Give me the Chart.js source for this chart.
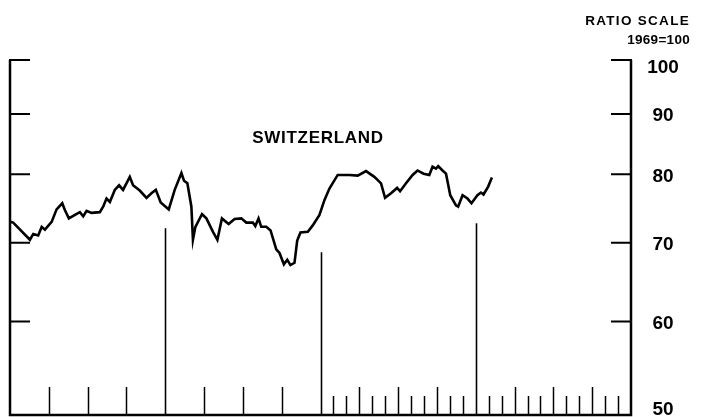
<!DOCTYPE html>
<html>
<head>
<meta charset="utf-8">
<script src="https://cdn.jsdelivr.net/npm/chart.js@4/dist/chart.umd.min.js"></script>
<style>
  html, body { margin: 0; padding: 0; background: #fff; }
  #wrap { width: 705px; height: 417px; }
</style>
</head>
<body>
<div id="wrap"><canvas id="chart"></canvas></div>
<script>
// Data (x = months from start of first year, y = index, 1969=100)
const months = [0, 0.25, 1.54, 1.8, 2.18, 2.45, 2.7, 3.22, 3.6, 4.04, 4.24, 4.55, 5.02, 5.4, 5.66, 5.92,
  6.3, 6.94, 7.2, 7.46, 7.72, 8.1, 8.43, 8.74, 9.26, 9.51, 10.03, 10.55, 10.93, 11.27, 11.65,
  12.27, 12.73, 13.25, 13.45, 13.71, 14.02, 14.14, 14.33, 14.84, 15.18, 15.69, 16.03, 16.38, 16.9,
  17.36, 17.88, 18.26, 18.77, 18.96, 19.21, 19.42, 19.81, 20.14, 20.58, 20.83, 21.17, 21.43, 21.68,
  21.99, 22.2, 22.45, 23.02, 23.4, 23.92, 24.31, 24.69, 25.33, 25.59, 26.23, 26.88, 27.52, 28.16,
  28.68, 28.99, 29.45, 29.92, 30.15, 30.61, 31.12, 31.5, 31.97, 32.41, 32.66, 32.92, 33.1, 33.43,
  33.7, 34.03, 34.47, 34.64, 34.98, 35.36, 35.67, 36.13, 36.4, 36.6, 36.96, 37.25];
const index = [72.9, 72.8, 70.4, 71.2, 71.0, 72.2, 71.8, 72.9, 74.7, 75.6, 74.6, 73.4, 73.9, 74.3, 73.7, 74.5,
  74.2, 74.3, 75.1, 76.3, 75.8, 77.6, 78.3, 77.6, 79.6, 78.3, 77.5, 76.4, 77.1, 77.6, 75.7,
  74.7, 77.6, 80.2, 79.0, 78.6, 75.1, 70.4, 72.2, 74.0, 73.4, 71.5, 70.4, 73.4, 72.6,
  73.3, 73.4, 72.8, 72.8, 72.3, 73.4, 72.2, 72.2, 71.7, 69.1, 68.6, 67.1, 67.7, 67.0,
  67.3, 70.3, 71.4, 71.5, 72.4, 73.9, 76.1, 77.8, 79.9, 79.9, 79.9, 79.8, 80.5, 79.6,
  78.6, 76.4, 77.1, 77.9, 77.4, 78.6, 79.9, 80.6, 80.1, 79.9, 81.2, 80.9, 81.3, 80.6,
  80.1, 76.8, 75.3, 75.1, 76.8, 76.3, 75.6, 76.8, 77.2, 76.9, 78.1, 79.5];

const yTicks = [50, 60, 70, 80, 90, 100];
const yearBreaks = [12, 24, 36];
const title = 'SWITZERLAND';
const scaleNote = ['RATIO SCALE', '1969=100'];

// Bottom axis ticks: quarterly for the first two years, monthly for the last two
const xTicks = [];
for (let m = 1; m < 48; m++) {
  if (m % 12 === 0) continue;
  if (m < 24 && m % 3 !== 0) continue;
  xTicks.push({ m: m, tall: m % 3 === 0 });
}

const FONT = '"Liberation Sans", Arial, Helvetica, sans-serif';

const framePlugin = {
  id: 'frame',
  afterDatasetsDraw(chart) {
    const ctx = chart.ctx;
    const xs = chart.scales.x;
    const ys = chart.scales.y;
    const a = chart.chartArea;
    ctx.save();
    ctx.strokeStyle = '#000';
    ctx.fillStyle = '#000';
    ctx.lineCap = 'butt';

    // left / right / bottom axis lines
    ctx.lineWidth = 2.5;
    ctx.beginPath();
    ctx.moveTo(a.left, a.top);
    ctx.lineTo(a.left, a.bottom);
    ctx.lineTo(a.right, a.bottom);
    ctx.lineTo(a.right, a.top);
    ctx.stroke();

    // inward ticks on both sides
    ctx.lineWidth = 2;
    yTicks.forEach(v => {
      if (v === 50) return;
      const y = ys.getPixelForValue(v);
      ctx.beginPath();
      ctx.moveTo(a.left - 1, y);
      ctx.lineTo(a.left + 20, y);
      ctx.moveTo(a.right + 1, y);
      ctx.lineTo(a.right - 20, y);
      ctx.stroke();
    });

    // year dividers
    const breakTops = [72.0, 68.7, 72.7];
    ctx.lineWidth = 1.6;
    yearBreaks.forEach((m, i) => {
      const x = Math.round(xs.getPixelForValue(m)) + 0.5;
      ctx.beginPath();
      ctx.moveTo(x, a.bottom);
      ctx.lineTo(x, ys.getPixelForValue(breakTops[i]));
      ctx.stroke();
    });

    // small ticks along the bottom
    ctx.lineWidth = 1.5;
    xTicks.forEach(t => {
      const x = Math.round(xs.getPixelForValue(t.m)) + 0.5;
      ctx.beginPath();
      ctx.moveTo(x, a.bottom);
      ctx.lineTo(x, a.bottom - (t.tall ? 28 : 19));
      ctx.stroke();
    });

    // right hand tick labels
    ctx.font = 'bold 19px ' + FONT;
    ctx.textAlign = 'center';
    ctx.textBaseline = 'middle';
    yTicks.forEach(v => {
      const y = ys.getPixelForValue(v);
      let dy = 2;
      if (v === 100) dy = 8;
      if (v === 50) dy = -5;
      ctx.fillText(String(v), a.right + 32, y + dy);
    });

    // scale note
    ctx.font = 'bold 13.5px ' + FONT;
    ctx.textAlign = 'right';
    ctx.letterSpacing = '1.3px';
    ctx.fillText(scaleNote[0], 690, 21);
    ctx.letterSpacing = '0.3px';
    ctx.fillText(scaleNote[1], 690, 40);

    // country title
    ctx.font = 'bold 17px ' + FONT;
    ctx.textAlign = 'center';
    ctx.letterSpacing = '0.7px';
    ctx.fillText(title, 318, 138);
    ctx.restore();
  }
};

new Chart(document.getElementById('chart'), {
  type: 'line',
  data: {
    datasets: [{
      data: months.map((m, i) => ({ x: m, y: index[i] })),
      borderColor: '#000',
      borderWidth: 2.6,
      pointRadius: 0,
      tension: 0,
      fill: false
    }]
  },
  options: {
    responsive: true,
    maintainAspectRatio: false,
    animation: false,
    layout: { padding: { left: 10, right: 74, top: 60, bottom: 2 } },
    plugins: { legend: { display: false }, tooltip: { enabled: false } },
    scales: {
      x: { type: 'linear', min: 0, max: 48, display: false },
      y: { type: 'logarithmic', min: 50, max: 100, display: false }
    }
  },
  plugins: [framePlugin]
});
</script>
</body>
</html>
